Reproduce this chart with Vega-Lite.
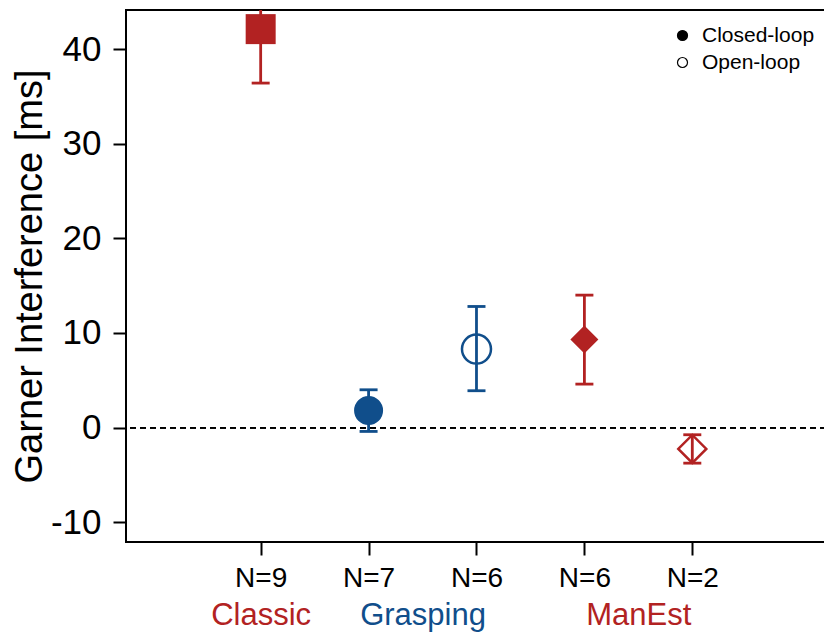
{
  "$schema": "https://vega.github.io/schema/vega-lite/v6.json",
  "width": 700,
  "height": 532,
  "autosize": {"type": "none"},
  "padding": {"left": 126, "top": 10, "right": 0, "bottom": 91},
  "background": "white",
  "config": {
    "font": "Liberation Sans",
    "view": {"stroke": "black", "strokeWidth": 2},
    "axis": {"grid": false, "domain": false, "tickColor": "black", "tickWidth": 2, "tickSize": 13, "labelColor": "black", "labelFont": "Liberation Sans", "titleFont": "Liberation Sans"}
  },
  "data": {"values": [
    {"cond": "Classic", "loop": "Closed-loop", "pos": 1, "mean": 42.1, "lo": 36.4, "hi": 47.8},
    {"cond": "Grasping", "loop": "Closed-loop", "pos": 2, "mean": 1.8, "lo": -0.4, "hi": 4.0},
    {"cond": "Grasping", "loop": "Open-loop", "pos": 3, "mean": 8.3, "lo": 3.9, "hi": 12.8},
    {"cond": "ManEst", "loop": "Closed-loop", "pos": 4, "mean": 9.3, "lo": 4.6, "hi": 14.0},
    {"cond": "ManEst", "loop": "Open-loop", "pos": 5, "mean": -2.25, "lo": -3.75, "hi": -0.75}
  ]},
  "encoding": {
    "x": {
      "field": "pos", "type": "quantitative",
      "scale": {"domain": [-0.248, 6.239], "nice": false, "zero": false},
      "axis": null
    },
    "y": {
      "field": "mean", "type": "quantitative",
      "scale": {"domain": [-12.08, 44.12], "nice": false, "zero": false},
      "axis": {"values": [-10, 0, 10, 20, 30, 40], "labelExpr": "datum.value < 0 ? '-' + abs(datum.value) : '' + datum.value", "labelFontSize": 35, "labelPadding": 12, "title": "Garner Interference [ms]", "titleFontSize": 38, "titleFontWeight": "normal", "titlePadding": 1, "titleColor": "black"}
    },
    "color": {
      "field": "cond", "type": "nominal",
      "scale": {"domain": ["Classic", "Grasping", "ManEst"], "range": ["#B22222", "#104E8B", "#B22222"]},
      "legend": null
    }
  },
  "resolve": {"axis": {"x": "independent"}},
  "layer": [
    {
      "mark": {"type": "rule", "strokeDash": [6, 4], "strokeWidth": 1.5, "color": "black"},
      "encoding": {"y": {"datum": 0}, "x": null, "color": null}
    },
    {
      "mark": {"type": "rule", "strokeWidth": 2.8, "opacity": 1, "clip": true},
      "encoding": {
        "x": {
          "field": "pos", "type": "quantitative",
          "scale": {"domain": [-0.248, 6.239], "nice": false, "zero": false},
          "axis": {"orient": "bottom", "values": [1, 2, 3, 4, 5], "labelExpr": "['','N=9','N=7','N=6','N=6','N=2'][datum.value]", "labelFontSize": 28, "labelPadding": 9, "title": null}
        },
        "y": {"field": "lo", "type": "quantitative"},
        "y2": {"field": "hi"}
      }
    },
    {
      "mark": {"type": "tick", "orient": "horizontal", "size": 18, "thickness": 2.8, "opacity": 1, "clip": true},
      "encoding": {"y": {"field": "lo", "type": "quantitative"}}
    },
    {
      "mark": {"type": "tick", "orient": "horizontal", "size": 18, "thickness": 2.8, "opacity": 1, "clip": true},
      "encoding": {"y": {"field": "hi", "type": "quantitative"}}
    },
    {
      "transform": [{"filter": "datum.loop == 'Closed-loop'"}],
      "mark": {"type": "point", "filled": true, "opacity": 1},
      "encoding": {
        "shape": {"field": "cond", "type": "nominal", "scale": {"domain": ["Classic", "Grasping", "ManEst"], "range": ["square", "circle", "diamond"]}, "legend": null},
        "size": {"field": "cond", "type": "nominal", "scale": {"domain": ["Classic", "Grasping", "ManEst"], "range": [900, 784, 1111]}, "legend": null}
      }
    },
    {
      "transform": [{"filter": "datum.loop == 'Open-loop'"}],
      "mark": {"type": "point", "filled": false, "strokeWidth": 2.5, "opacity": 1},
      "encoding": {
        "shape": {"field": "cond", "type": "nominal", "scale": {"domain": ["Classic", "Grasping", "ManEst"], "range": ["square", "circle", "diamond"]}, "legend": null},
        "size": {"field": "cond", "type": "nominal", "scale": {"domain": ["Classic", "Grasping", "ManEst"], "range": [900, 784, 1111]}, "legend": null}
      }
    },
    {
      "mark": {"type": "point", "shape": "circle", "opacity": 0, "stroke": "black", "size": 100},
      "encoding": {
        "x": {
          "field": "pos", "type": "quantitative",
          "scale": {"domain": [-0.248, 6.239], "nice": false, "zero": false},
          "axis": {
            "orient": "bottom",
            "values": [1, 2.5, 4.5],
            "labelExpr": "datum.value == 1 ? 'Classic' : datum.value == 2.5 ? 'Grasping' : 'ManEst'",
            "labelColor": {"condition": {"test": "datum.value == 2.5", "value": "#104E8B"}, "value": "#B22222"},
            "labelFontSize": 31,
            "labelPadding": 58,
            "ticks": false,
            "tickSize": 0,
            "domain": false,
            "labelOverlap": false,
            "title": null
          }
        },
        "color": null,
        "fill": {
          "field": "loop", "type": "nominal",
          "scale": {"domain": ["Closed-loop", "Open-loop"], "range": ["black", "white"]},
          "legend": {"title": null, "orient": "none", "legendX": 546, "legendY": 15, "padding": 0, "symbolSize": 100, "symbolType": "circle", "symbolStrokeColor": "black", "symbolStrokeWidth": 1.2, "symbolOpacity": 1, "labelFontSize": 21, "labelFont": "Liberation Sans", "labelColor": "black", "labelOffset": 9, "rowPadding": 5, "labelLimit": 300}
        }
      }
    }
  ]
}
